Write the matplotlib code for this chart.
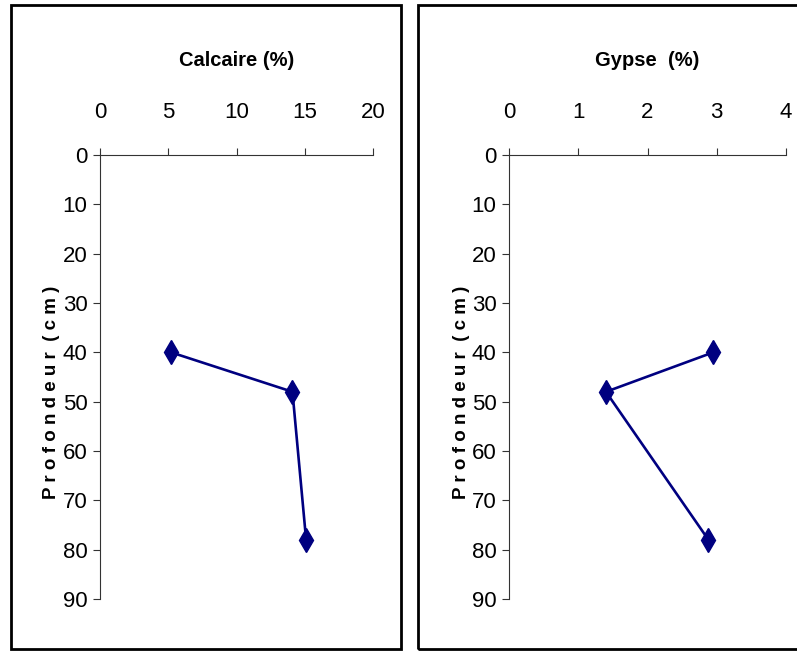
import matplotlib
matplotlib.use("Agg")
import matplotlib.pyplot as plt
from matplotlib.patches import Rectangle

plt.rcParams['font.family'] = ['Liberation Sans', 'DejaVu Sans']

depth = [40, 48, 78]
calcaire = [5.2, 14.1, 15.1]
gypse = [2.95, 1.4, 2.88]

depth_ticks = list(range(0, 100, 10))
calcaire_ticks = [0, 5, 10, 15, 20]
gypse_ticks = [0, 1, 2, 3, 4]

W, H = 797, 651
fig = plt.figure(figsize=(W / 100, H / 100), dpi=100)

# frames around each chart
fig.patches.append(Rectangle((11 / W, 1 - 649 / H), 390 / W, 644 / H,
                             transform=fig.transFigure, fill=False,
                             edgecolor='black', linewidth=2))
fig.patches.append(Rectangle((418 / W, 1 - 649 / H), 420 / W, 644 / H,
                             transform=fig.transFigure, fill=False,
                             edgecolor='black', linewidth=2))


def profile(x0, x1, values, ticks, title):
    ax = fig.add_axes([x0 / W, 1 - 599 / H, (x1 - x0) / W, 444 / H])
    ax.plot(values, depth, color='#000080', linewidth=1.9, marker='d',
            markersize=12, clip_on=False)
    ax.set_xlim(ticks[0], ticks[-1])
    ax.set_ylim(90, 0)
    ax.set_xticks(ticks)
    ax.set_yticks(depth_ticks)
    ax.xaxis.tick_top()
    for s in ['right', 'bottom']:
        ax.spines[s].set_visible(False)
    for s in ['top', 'left']:
        ax.spines[s].set_linewidth(0.8)
        ax.spines[s].set_color('#333333')
    ax.tick_params(axis='x', direction='out', length=5, width=0.8,
                   color='#333333', pad=18, labelsize=16)
    ax.tick_params(axis='y', direction='out', length=5, width=0.8,
                   color='#333333', pad=4, labelsize=16)
    fig.text((x0 + x1) / 2 / W, 1 - 60 / H, title, ha='center', va='center',
             fontsize=14.5, fontweight='bold')
    fig.text((x0 - 48) / W, 1 - 392 / H, 'P r o f o n d e u r  ( c m )',
             rotation=90, ha='center', va='center', fontsize=13.5,
             fontweight='bold')
    return ax


profile(100, 373, calcaire, calcaire_ticks, 'Calcaire (%)')
profile(509, 786, gypse, gypse_ticks, 'Gypse  (%)')

fig.savefig('out.png', dpi=100)
